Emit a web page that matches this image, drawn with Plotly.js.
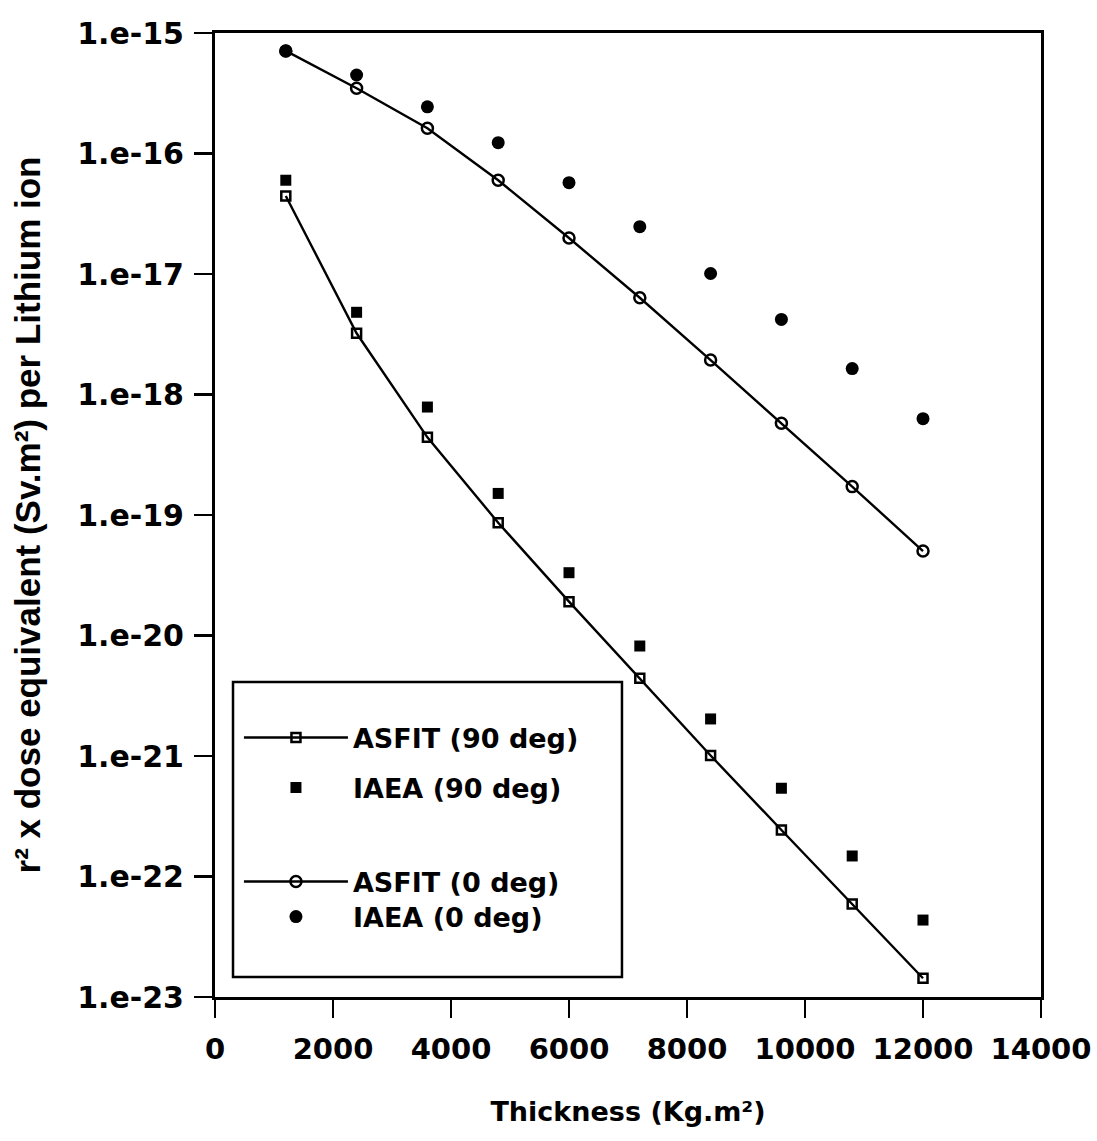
<!DOCTYPE html>
<html>
<head>
<meta charset="utf-8">
<script src="https://cdn.plot.ly/plotly-3.0.1.min.js"></script>
<style>html,body{margin:0;padding:0;background:#fff;}#chart{width:1097px;height:1141px;}</style>
</head>
<body>
<div id="chart"></div>
<script>
// Thickness (Kg.m^2)
const thickness = [1200, 2400, 3600, 4800, 6000, 7200, 8400, 9600, 10800, 12000];
// r^2 x dose equivalent (Sv.m^2) per Lithium ion
const asfit90 = [4.44e-17, 3.22e-18, 4.41e-19, 8.63e-20, 1.91e-20, 4.41e-21, 1.01e-21, 2.43e-22, 5.91e-23, 1.43e-23];
const iaea90  = [6.0e-17, 4.81e-18, 7.87e-19, 1.51e-19, 3.32e-20, 8.18e-21, 2.03e-21, 5.4e-22, 1.48e-22, 4.35e-23];
const asfit0  = [7.1e-16, 3.48e-16, 1.62e-16, 6.0e-17, 1.99e-17, 6.35e-18, 1.93e-18, 5.77e-19, 1.72e-19, 5.02e-20];
const iaea0   = [7.1e-16, 4.48e-16, 2.44e-16, 1.23e-16, 5.73e-17, 2.47e-17, 1.01e-17, 4.2e-18, 1.64e-18, 6.3e-19];
const xTicks = [0, 2000, 4000, 6000, 8000, 10000, 12000, 14000];
const xTickText = ['0', '2000', '4000', '6000', '8000', '10000', '12000', '14000'];
const yTickVals = [1e-15, 1e-16, 1e-17, 1e-18, 1e-19, 1e-20, 1e-21, 1e-22, 1e-23];
const yTickText = ['1.e-15', '1.e-16', '1.e-17', '1.e-18', '1.e-19', '1.e-20', '1.e-21', '1.e-22', '1.e-23'];
const seriesNames = ['ASFIT (90 deg)', 'IAEA (90 deg)', 'ASFIT (0 deg)', 'IAEA (0 deg)'];

const DJ = '"DejaVu Sans", "Liberation Sans", Arial, sans-serif';
const LS = '"Liberation Sans", Arial, sans-serif';

const traces = [
  {x: thickness, y: asfit90, name: seriesNames[0], mode: 'lines+markers', legend: 'legend',
   line: {color: '#000', width: 2.4},
   marker: {symbol: 'square-open', size: 9, color: '#000', line: {width: 2.5, color: '#000'}}},
  {x: thickness, y: iaea90, name: seriesNames[1], mode: 'markers', legend: 'legend2',
   marker: {symbol: 'square', size: 11, color: '#000'}},
  {x: thickness, y: asfit0, name: seriesNames[2], mode: 'lines+markers', legend: 'legend3',
   line: {color: '#000', width: 2.4},
   marker: {symbol: 'circle-open', size: 11, color: '#000', line: {width: 2.5, color: '#000'}}},
  {x: thickness, y: iaea0, name: seriesNames[3], mode: 'markers', legend: 'legend4',
   marker: {symbol: 'circle', size: 13, color: '#000'}}
];

function leg(y) {
  return {
    x: 0.029, y: y, xanchor: 'left', yanchor: 'middle',
    bgcolor: 'rgba(0,0,0,0)', borderwidth: 0,
    font: {family: DJ, size: 27, color: '#000', weight: 'bold'},
    itemwidth: 104, itemclick: false, itemdoubleclick: false
  };
}

const layout = {
  width: 1097, height: 1141,
  paper_bgcolor: '#fff', plot_bgcolor: '#fff',
  margin: {l: 215, r: 56, t: 33, b: 144, pad: 0},
  font: {family: DJ, color: '#000'},
  showlegend: true,
  legend: leg(0.2687),
  legend2: leg(0.2168),
  legend3: leg(0.1193),
  legend4: leg(0.0830),
  shapes: [{
    type: 'rect', xref: 'paper', yref: 'paper',
    x0: 0.0218, x1: 0.4927, y0: 0.0207, y1: 0.3268,
    line: {color: '#000', width: 2.5}, fillcolor: '#fff', layer: 'below'
  }],
  xaxis: {
    range: [0, 14000], tickmode: 'array', tickvals: xTicks, ticktext: xTickText,
    ticks: 'outside', ticklen: 18, tickwidth: 2.5, tickcolor: '#000',
    showline: true, linecolor: '#000', linewidth: 3, mirror: true,
    showgrid: false, zeroline: false,
    tickfont: {family: DJ, size: 29, color: '#000', weight: 'bold'},
    ticklabelstandoff: 6,
    title: {text: 'Thickness (Kg.m²)', font: {family: DJ, size: 27, color: '#000', weight: 'bold'}, standoff: 38}
  },
  yaxis: {
    type: 'log', range: [-23, -15], tickmode: 'array', tickvals: yTickVals, ticktext: yTickText,
    ticks: 'outside', ticklen: 18, tickwidth: 2.5, tickcolor: '#000',
    showline: true, linecolor: '#000', linewidth: 3, mirror: true,
    showgrid: false, zeroline: false,
    tickfont: {family: DJ, size: 30, color: '#000', weight: 'bold'},
    ticklabelstandoff: 4,
    title: {text: 'r² x dose equivalent (Sv.m²) per Lithium ion', font: {family: LS, size: 35, color: '#000', weight: 'bold'}, standoff: 26}
  }
};

Plotly.newPlot('chart', traces, layout, {staticPlot: true});
</script>
</body>
</html>
